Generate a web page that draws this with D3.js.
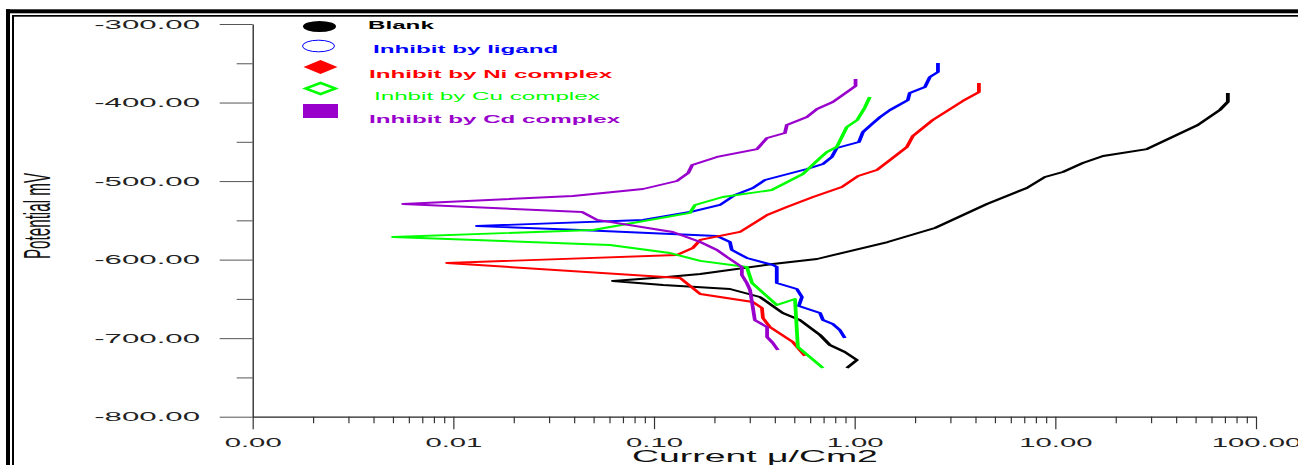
<!DOCTYPE html>
<html>
<head>
<meta charset="utf-8">
<script src="https://cdn.jsdelivr.net/npm/d3@7"></script>
<style>
  html, body { margin: 0; padding: 0; background: #fff; }
  svg { display: block; font-family: "Liberation Sans", Arial, sans-serif; }
</style>
</head>
<body>
<svg id="chart" width="1298" height="465"></svg>
<script>
// Polarization curves: [current (μ/Cm2), potential (mV)]
const blank = [[72.4,-388],[72.4,-399],[66.0,-409.5],[51.3,-428.6],[28.6,-459.2],[17.3,-468.1],[13.7,-477],[10.9,-488.4],[8.87,-494.8],[7.21,-508.8],[4.56,-529.2],[2.51,-559.7],[1.46,-577.6],[0.649,-599.2],[0.391,-605.6],[0.170,-618.3],[0.116,-622.1],[0.0623,-627.2],[0.111,-632.3],[0.239,-637.4],[0.337,-647.6],[0.438,-668],[0.533,-676.9],[0.672,-696],[0.752,-708.7],[0.893,-717.6],[1.026,-727.8],[0.914,-738]];
const ligand = [[2.60,-349.7],[2.60,-361.1],[2.37,-367.5],[2.24,-380.2],[1.88,-387.9],[1.84,-396.8],[1.50,-409.5],[1.34,-418.4],[1.22,-427.3],[1.10,-437.5],[1.05,-450.2],[0.814,-457.9],[0.769,-469.3],[0.695,-478.2],[0.578,-484.6],[0.357,-498.6],[0.311,-508.8],[0.253,-517.7],[0.213,-530.4],[0.151,-539.4],[0.0881,-549.5],[0.0131,-557.2],[0.0428,-562.3],[0.206,-569.9],[0.239,-577.6],[0.244,-587.7],[0.290,-597.9],[0.391,-606.8],[0.409,-609.4],[0.409,-629.8],[0.515,-637.4],[0.546,-647.6],[0.527,-659],[0.672,-668],[0.695,-676.9],[0.778,-682],[0.843,-689.6],[0.893,-699.8]];
const niComplex = [[4.16,-375.1],[4.16,-386.6],[3.46,-398],[2.45,-422.2],[1.95,-442.6],[1.82,-456.6],[1.50,-473.2],[1.29,-485.9],[1.04,-493.5],[0.863,-507.5],[0.620,-520.3],[0.459,-533],[0.366,-543.2],[0.268,-564.8],[0.170,-575],[0.156,-585.2],[0.130,-594.1],[0.00929,-604.3],[0.135,-623.4],[0.170,-643.8],[0.311,-654],[0.345,-661.6],[0.349,-674.3],[0.378,-685.8],[0.492,-704.9],[0.565,-722.7]];
const cuComplex = [[1.19,-392.9],[1.12,-407],[1.03,-422.2],[0.914,-431.1],[0.863,-443.9],[0.814,-456.6],[0.727,-463],[0.672,-470.6],[0.552,-491],[0.386,-511.4],[0.220,-520.3],[0.160,-530.4],[0.151,-540.6],[0.0497,-562.3],[0.00500,-571.2],[0.0603,-581.4],[0.120,-591.6],[0.170,-601.7],[0.290,-609.4],[0.308,-629.8],[0.409,-657.8],[0.504,-650.1],[0.521,-711.2],[0.598,-724],[0.695,-738]];
const cdComplex = [[1.01,-370],[1.01,-378.9],[0.778,-399.3],[0.649,-408.2],[0.578,-418.4],[0.459,-428.6],[0.449,-438.8],[0.366,-445.1],[0.326,-459.2],[0.206,-469.3],[0.155,-479.5],[0.148,-489.7],[0.130,-499.9],[0.0881,-510.1],[0.0394,-519],[0.00561,-529.2],[0.0438,-539.4],[0.0520,-549.5],[0.124,-564.8],[0.170,-577.6],[0.206,-587.7],[0.231,-596.7],[0.274,-609.4],[0.274,-619.6],[0.290,-629.8],[0.301,-638.7],[0.318,-676.9],[0.366,-685.8],[0.366,-698.5],[0.391,-706.2],[0.414,-715.1]];

const seriesNames = ["Blank", "Inhibit by ligand", "Inhibit by Ni complex", "Inhbit by Cu complex", "Inhibit by Cd complex"];
const seriesColors = ["#000000", "#0000ff", "#ff0000", "#00ff00", "#9900cc"];
const seriesData = [blank, ligand, niComplex, cuComplex, cdComplex];

const potentialTicks = [-300, -400, -500, -600, -700, -800];
const potentialMinor = [-350, -450, -550, -650, -750];
const currentTicks = [0.001, 0.01, 0.1, 1, 10, 100];
const currentMinor = [];
currentTicks.slice(0, -1).forEach(d => { for (let m = 2; m <= 9; m++) currentMinor.push(d * m); });

const svg = d3.select("#chart");

// layout
const X0 = 252.7, X1 = 1256, Y0 = 24, Y1 = 416.7;
const x = d3.scaleLog().domain([0.001, 100]).range([X0, X1]);
const y = d3.scaleLinear().domain([-300, -800]).range([Y0, Y1]);

// fixed two-decimal labels with a plain hyphen for negatives
const fmt2 = d => d.toFixed(2);

// horizontal stretch helper for text about its anchor point
function stretch(sel, sx) {
  sel.each(function () {
    const t = d3.select(this);
    const tx = +t.attr("x") || 0;
    t.attr("transform", `translate(${tx},0) scale(${sx},1) translate(${-tx},0)`);
  });
}

// double frame
const frame = svg.append("g");
frame.append("rect").attr("x", 6).attr("y", 9.3).attr("width", 1400).attr("height", 4).attr("fill", "#000");
frame.append("rect").attr("x", 6).attr("y", 9.3).attr("width", 4).attr("height", 600).attr("fill", "#000");
frame.append("rect").attr("x", 12).attr("y", 15).attr("width", 1400).attr("height", 1.7).attr("fill", "#000");
frame.append("rect").attr("x", 12).attr("y", 15).attr("width", 2).attr("height", 600).attr("fill", "#000");

// y axis
const yAxisG = svg.append("g").attr("transform", `translate(${X0},0)`);
yAxisG.call(d3.axisLeft(y).tickValues(potentialTicks).tickSize(33).tickSizeOuter(0).tickFormat(fmt2));
yAxisG.append("g").call(d3.axisLeft(y).tickValues(potentialMinor).tickSize(16).tickSizeOuter(0).tickFormat(""))
  .select(".domain").remove();
yAxisG.selectAll(".domain").attr("stroke", "#222").attr("stroke-width", 1.3);
yAxisG.selectAll(".tick line").attr("stroke", "#555").attr("stroke-width", 1);
yAxisG.selectAll(".tick text")
  .attr("x", -52.7).attr("dy", "0.34em")
  .attr("font-size", 12).attr("fill", "#222").attr("text-anchor", "end")
  .call(stretch, 2.6);

// x axis
const xAxisG = svg.append("g").attr("transform", `translate(0,${Y1})`);
xAxisG.call(d3.axisBottom(x).tickValues(currentTicks).tickSize(12.5).tickSizeOuter(0).tickFormat(fmt2));
xAxisG.append("g").call(d3.axisBottom(x).tickValues(currentMinor).tickSize(6.5).tickSizeOuter(0).tickFormat(""))
  .select(".domain").remove();
xAxisG.selectAll(".domain").attr("stroke", "#222").attr("stroke-width", 1.3);
xAxisG.selectAll(".tick line").attr("stroke", "#333").attr("stroke-width", 1.2);
xAxisG.selectAll(".tick text")
  .attr("y", 30.3).attr("dy", 0)
  .attr("font-size", 12).attr("fill", "#222").attr("text-anchor", "middle")
  .each(function () { d3.select(this).attr("x", 0); })
  .call(stretch, 2.44);

// axis titles
svg.append("text")
  .attr("transform", "translate(50,216) scale(2.43,1) rotate(-90)")
  .attr("text-anchor", "middle").attr("font-size", 15.2).attr("fill", "#111")
  .text("Potential mV");
svg.append("text")
  .attr("x", 755).attr("y", 462)
  .attr("text-anchor", "middle").attr("font-size", 17).attr("fill", "#111")
  .text("Current \u03bc/Cm2")
  .call(stretch, 2.2);

// curves, drawn in a horizontally stretched frame
const K = 2;
const xs = d3.scaleLog().domain(x.domain()).range([X0 / K, X1 / K]);
const line = d3.line().x(d => xs(d[0])).y(d => y(d[1]));
const plot = svg.append("g").attr("transform", `scale(${K},1)`);
plot.selectAll("path.curve")
  .data(seriesData)
  .join("path")
  .attr("class", "curve")
  .attr("d", line)
  .attr("fill", "none")
  .attr("stroke", (d, i) => seriesColors[i])
  .attr("stroke-width", 1.9)
  .attr("stroke-linejoin", "round");

// legend
const legend = svg.append("g");
const symY = [26.5, 46, 67, 88.5, 111];
const symX = 320.5;
legend.append("ellipse").attr("cx", symX - 1).attr("cy", symY[0]).attr("rx", 16.5).attr("ry", 5.6).attr("fill", seriesColors[0]);
legend.append("ellipse").attr("cx", symX - 2).attr("cy", symY[1]).attr("rx", 16).attr("ry", 5.8)
  .attr("fill", "#fff").attr("stroke", seriesColors[1]).attr("stroke-width", 1);
legend.append("path")
  .attr("d", `M${symX - 17},${symY[2]} L${symX},${symY[2] - 7} L${symX + 17},${symY[2]} L${symX},${symY[2] + 7} Z`)
  .attr("fill", seriesColors[2]);
legend.append("g").attr("transform", `translate(${symX},${symY[3]}) scale(2.4,1)`)
  .append("path")
  .attr("d", "M-6.2,0 L0,-5.6 L6.2,0 L0,5.6 Z")
  .attr("fill", "#fff").attr("stroke", seriesColors[3]).attr("stroke-width", 2);
legend.append("rect").attr("x", 303).attr("y", 104).attr("width", 35).attr("height", 14).attr("fill", seriesColors[4]);

const labelX = [368, 373, 369, 374, 369];
const labelY = [25.7, 49.3, 74, 96.7, 119.3];
legend.selectAll("text.lbl")
  .data(seriesNames)
  .join("text")
  .attr("class", "lbl")
  .attr("x", (d, i) => labelX[i])
  .attr("y", (d, i) => labelY[i])
  .attr("dy", "0.36em")
  .attr("font-size", 10)
  .attr("font-weight", (d, i) => i === 3 ? "normal" : "bold")
  .attr("fill", (d, i) => seriesColors[i])
  .text(d => d)
  .call(stretch, 2.42);
</script>
</body>
</html>
